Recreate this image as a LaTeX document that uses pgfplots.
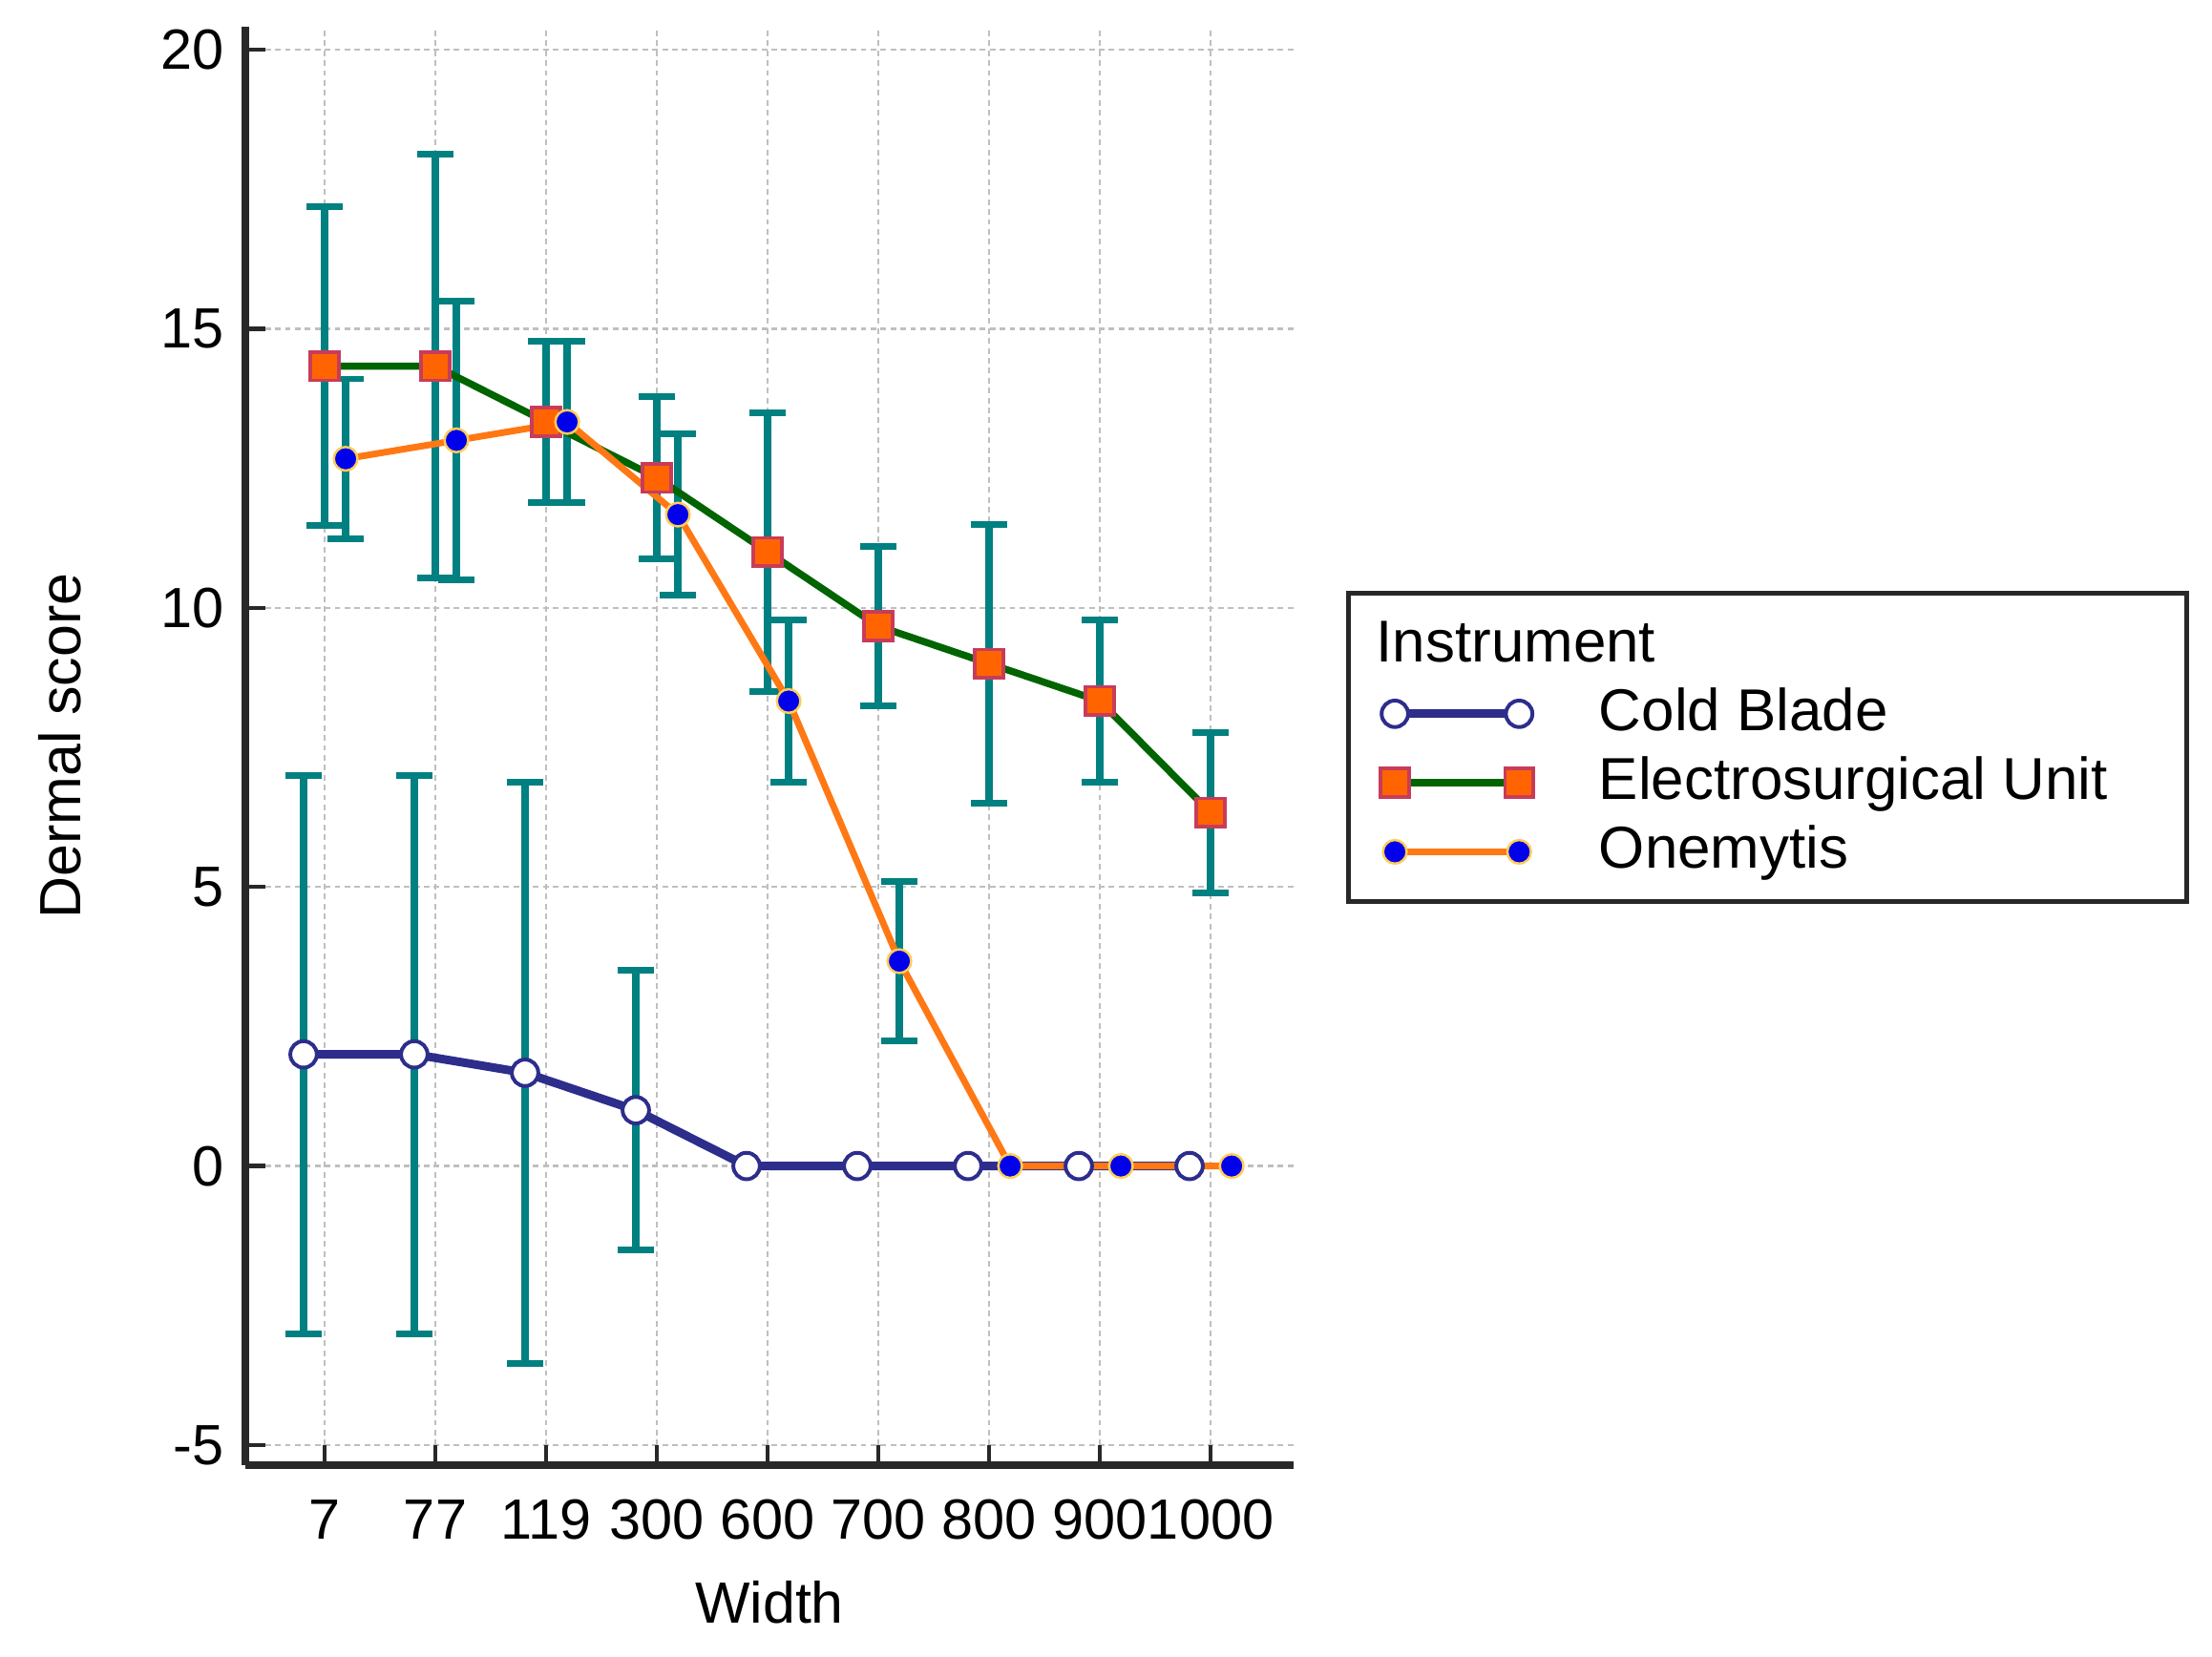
\documentclass[border=0pt]{standalone}
\usepackage{pgfplots}
\usepackage{pgfplotstable}
\pgfplotsset{compat=1.18}
\usepackage{fontspec}
\setmainfont{Liberation Sans}
\definecolor{navyline}{RGB}{45,45,140}
\definecolor{esugreen}{RGB}{0,100,0}
\definecolor{onemorange}{RGB}{255,120,20}
\definecolor{errteal}{RGB}{0,128,128}
\definecolor{sqfill}{RGB}{255,100,0}
\definecolor{sqedge}{RGB}{200,60,90}
\definecolor{dotblue}{RGB}{0,0,235}
\definecolor{dotedge}{RGB}{255,205,90}
\definecolor{axisgray}{RGB}{40,40,40}

% Cold Blade (plotted at index - 0.19)
\pgfplotstableread{
x y
-0.19 2
0.81 2
1.81 1.67
2.81 1
3.81 0
4.81 0
5.81 0
6.81 0
7.81 0
}\cold
\pgfplotstableread{
x y e
-0.19 2 5
0.81 2 5
1.81 1.67 5.2
2.81 1 2.5
}\coldErr
% Electrosurgical Unit (plotted at index)
\pgfplotstableread{
x y e
0 14.33 2.85
1 14.33 3.8
2 13.33 1.45
3 12.33 1.45
4 11.0 2.5
5 9.67 1.43
6 9.0 2.5
7 8.33 1.45
8 6.33 1.43
}\esu
% Onemytis (plotted at index + 0.19)
\pgfplotstableread{
x y
0.19 12.67
1.19 13.0
2.19 13.33
3.19 11.67
4.19 8.33
5.19 3.67
6.19 0
7.19 0
8.19 0
}\onem
\pgfplotstableread{
x y e
0.19 12.67 1.43
1.19 13.0 2.5
2.19 13.33 1.45
3.19 11.67 1.45
4.19 8.33 1.45
5.19 3.67 1.43
}\onemErr

\begin{document}
\begin{tikzpicture}
\begin{axis}[
  set layers=standard, mark layer=axis foreground,
  at={(0pt,0pt)}, anchor=south west,
  width=221.8pt, height=304.4pt, scale only axis,
  xmin=-0.716, xmax=8.75, ymin=-5.36, ymax=20.41,
  axis x line=bottom, axis y line=left,
  axis line style={-, line width=1.6pt, axisgray},
  xtick={0,1,2,3,4,5,6,7,8},
  xticklabels={7,77,119,300,600,700,800,900,1000},
  ytick={-5,0,5,10,15,20},
  yticklabels={-5,0,5,10,15,20},
  tick align=inside, major tick length=4.2pt,
  tick style={line width=0.9pt, axisgray},
  grid=major, grid style={dash pattern=on 1.2pt off 0.9pt, gray!50, line width=0.45pt},
  ticklabel style={font=\fontsize{12}{14}\selectfont},
  xticklabel style={anchor=base, yshift=-15.55pt},
  yticklabel style={xshift=-1.0pt},
  xlabel={Width},
  xlabel style={at={(axis description cs:0.5,-0.110)}, anchor=base, inner sep=0pt, font=\fontsize{12.3}{15}\selectfont},
  ylabel={Dermal score},
  ylabel style={at={(axis description cs:-0.1573,0.5)}, anchor=base, inner sep=0pt, font=\fontsize{12.3}{15}\selectfont},
  legend style={at={(axis description cs:1.0830,0.5437)}, anchor=north west, draw=none, fill=none,
    inner sep=0pt, outer sep=0pt, row sep=1.6pt, column sep=13.9pt,
    font=\fontsize{12.5}{15}\selectfont,
    nodes={inner sep=0pt, text height=10pt, text depth=3pt}},
  legend cell align=left,
  legend image code/.code={\draw plot coordinates {(0pt,0pt) (26.3pt,0pt)};},
]
% error bars first
\addplot[forget plot, only marks, mark=none, errteal,
  error bars/.cd, y dir=both, y explicit,
  error bar style={line width=1.55pt, draw=errteal},
  error mark options={rotate=90, draw=errteal, mark size=3.9pt, line width=1.4pt}]
  table[x=x, y=y, y error=e] {\coldErr};
\addplot[forget plot, only marks, mark=none, errteal,
  error bars/.cd, y dir=both, y explicit,
  error bar style={line width=1.55pt, draw=errteal},
  error mark options={rotate=90, draw=errteal, mark size=3.9pt, line width=1.4pt}]
  table[x=x, y=y, y error=e] {\esu};
\addplot[forget plot, only marks, mark=none, errteal,
  error bars/.cd, y dir=both, y explicit,
  error bar style={line width=1.55pt, draw=errteal},
  error mark options={rotate=90, draw=errteal, mark size=3.9pt, line width=1.4pt}]
  table[x=x, y=y, y error=e] {\onemErr};
% lines
\addplot[navyline, line width=1.8pt, mark=*, mark size=2.8pt,
  mark options={fill=white, draw=navyline, line width=0.8pt, solid}]
  table[x=x, y=y] {\cold};
\addlegendentry{Cold Blade}
\addplot[esugreen, line width=1.5pt, mark=square*, mark size=3.0pt,
  mark options={fill=sqfill, draw=sqedge, line width=0.75pt, solid}]
  table[x=x, y=y] {\esu};
\addlegendentry{Electrosurgical Unit}
\addplot[onemorange, line width=1.4pt, mark=*, mark size=2.5pt,
  mark options={fill=dotblue, draw=dotedge, line width=0.5pt, solid}]
  table[x=x, y=y] {\onem};
\addlegendentry{Onemytis}
\end{axis}
\draw[line width=1.05pt, axisgray] (233.4pt,119.3pt) rectangle (410.8pt,184.5pt);
\node[anchor=base west, inner sep=0pt, font=\fontsize{12.5}{15}\selectfont] at (239.1pt,169.9pt) {Instrument};
\pgfresetboundingbox
\useasboundingbox (-51.9pt,-40.4pt) rectangle (416.1pt,310.06pt);
\end{tikzpicture}
\end{document}
